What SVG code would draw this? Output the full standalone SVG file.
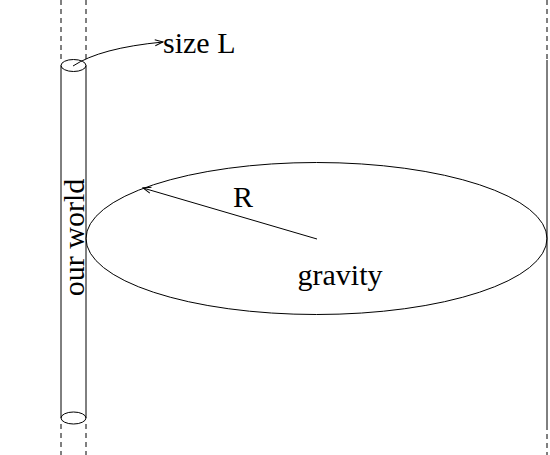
<svg xmlns="http://www.w3.org/2000/svg" width="550" height="455" viewBox="0 0 550 455">
<style>
.ln{stroke:#000;stroke-width:1;fill:none}
.dash{stroke:#000;stroke-width:1;fill:none;stroke-dasharray:5 4}
.t{font-family:"Liberation Serif","Times New Roman",serif;font-size:30px;fill:#000}
</style>
<defs>
<marker id="ah" markerWidth="10" markerHeight="8" refX="9" refY="4" orient="auto" markerUnits="userSpaceOnUse">
<path d="M1,1 L9,4 L1,7" fill="none" stroke="#000" stroke-width="1"/>
</marker>
</defs>
<rect width="550" height="455" fill="#fff"/>
<g id="world-tube">
<line class="dash" x1="61" y1="0" x2="61" y2="60"/>
<line class="dash" x1="86" y1="0" x2="86" y2="60"/>
<line class="ln" x1="61" y1="65.5" x2="61" y2="418"/>
<line class="ln" x1="86" y1="65.5" x2="86" y2="418"/>
<ellipse class="ln" cx="73.5" cy="65.5" rx="12.5" ry="6"/>
<ellipse class="ln" cx="73.5" cy="418" rx="12.5" ry="6"/>
<line class="dash" x1="61" y1="424" x2="61" y2="455"/>
<line class="dash" x1="86" y1="424" x2="86" y2="455"/>
<text class="t" text-anchor="middle" transform="translate(84,237.5) rotate(-90)">our world</text>
</g>
<g id="right-boundary">
<line class="dash" x1="547" y1="0" x2="547" y2="60"/>
<line class="ln" x1="547" y1="60" x2="547" y2="425"/>
<line class="dash" x1="547" y1="425" x2="547" y2="455"/>
</g>
<g id="gravity-region">
<ellipse class="ln" cx="316.5" cy="238.5" rx="230.5" ry="76"/>
<text class="t" x="340" y="285" text-anchor="middle">gravity</text>
</g>
<g id="label-size">
<text class="t" x="163" y="53">size L</text>
</g>
<g id="label-R">
<text class="t" x="233" y="207">R</text>
</g>
<g id="connectors">
<path class="ln" d="M73,66 Q100,48 163,42" marker-end="url(#ah)"/>
<line class="ln" x1="317" y1="239" x2="143" y2="188" marker-end="url(#ah)"/>
</g>
</svg>
